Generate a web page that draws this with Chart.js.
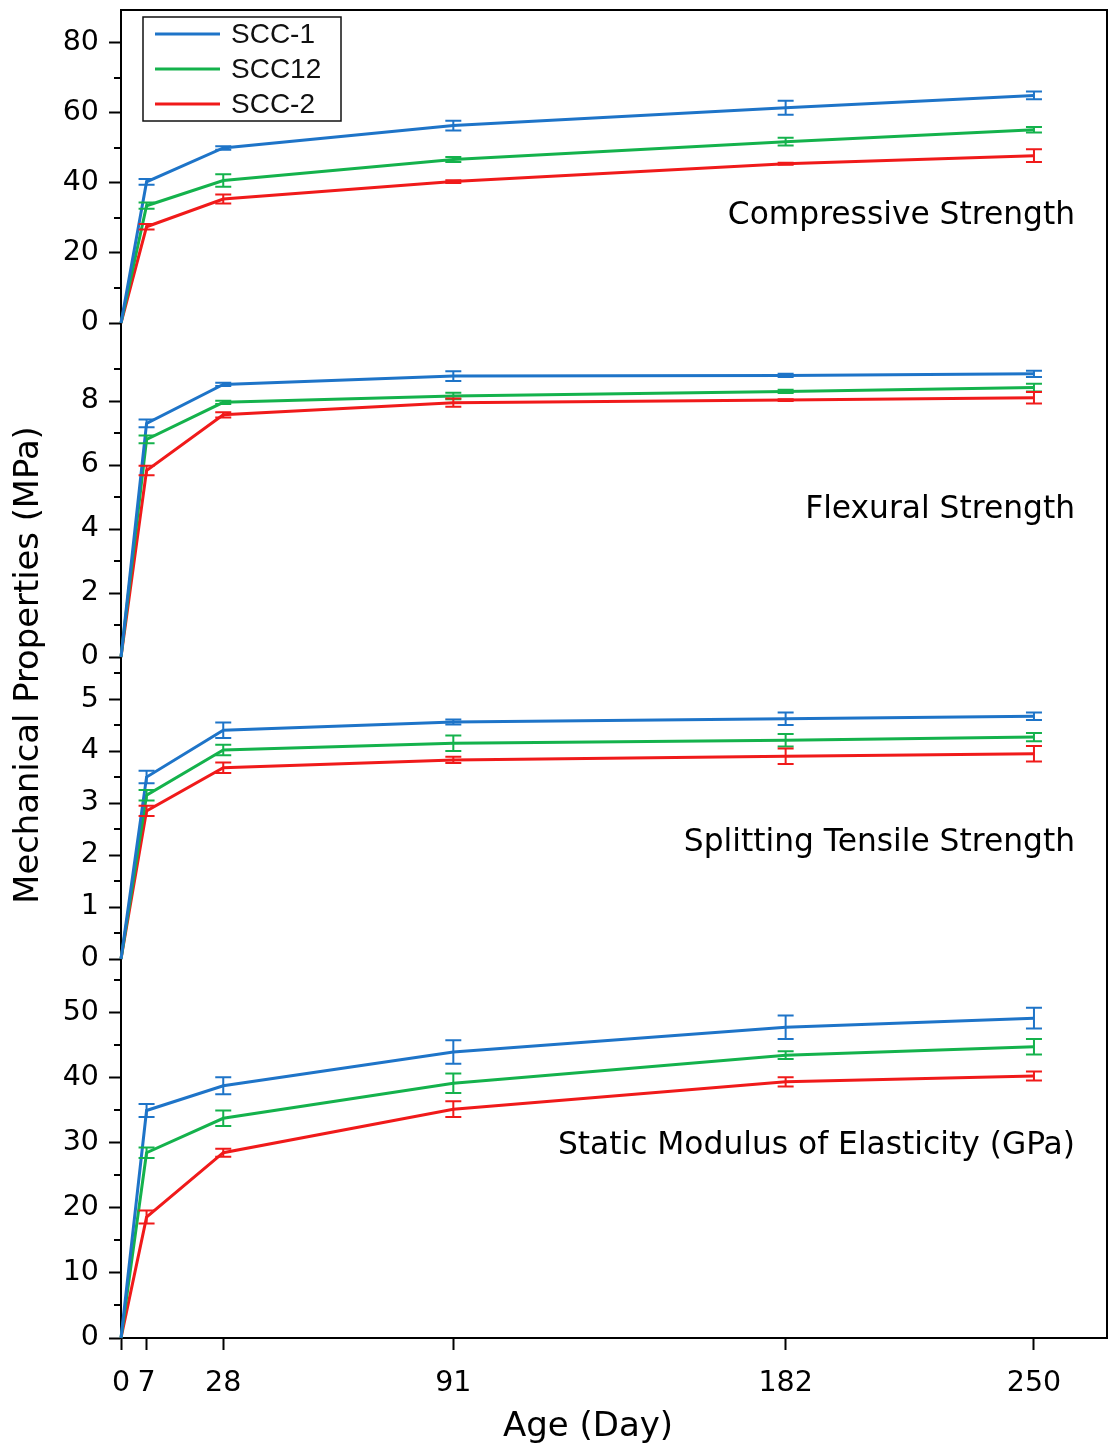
<!DOCTYPE html>
<html>
<head>
<meta charset="utf-8">
<script src="https://cdn.jsdelivr.net/npm/chart.js@4.4.1/dist/chart.umd.min.js"></script>
<style>
  body { margin: 0; background: #fff; }
  canvas { display: block; }
</style>
</head>
<body>
<canvas id="chart" width="1113" height="1454"></canvas>
<script>
// Age of specimens (days)
const days = [0, 7, 28, 91, 182, 250];
const dayTicks = [0, 7, 28, 91, 182, 250];
const seriesNames = ['SCC-1', 'SCC12', 'SCC-2'];

// Compressive strength (MPa)
const compScc1 = [0, 40.3, 50.0, 56.4, 61.5, 65.0];
const compScc1Err = [0, 0.8, 0.5, 1.4, 2.0, 1.1];
const compScc12 = [0, 33.5, 40.7, 46.7, 51.8, 55.2];
const compScc12Err = [0, 0.9, 1.8, 0.7, 1.1, 0.8];
const compScc2 = [0, 27.5, 35.4, 40.4, 45.5, 47.8];
const compScc2Err = [0, 0.8, 1.3, 0.4, 0.3, 1.8];
const compTicks = [0, 20, 40, 60, 80];
const compMinor = [10, 30, 50, 70];

// Flexural strength (MPa)
const flexScc1 = [0, 7.3, 8.52, 8.78, 8.8, 8.85];
const flexScc1Err = [0, 0.12, 0.05, 0.15, 0.05, 0.1];
const flexScc12 = [0, 6.8, 7.96, 8.16, 8.3, 8.42];
const flexScc12Err = [0, 0.12, 0.05, 0.1, 0.05, 0.12];
const flexScc2 = [0, 5.83, 7.57, 7.95, 8.03, 8.1];
const flexScc2Err = [0, 0.15, 0.08, 0.13, 0.03, 0.18];
const flexTicks = [0, 2, 4, 6, 8];
const flexMinor = [1, 3, 5, 7, 9];

// Splitting tensile strength (MPa)
const splitScc1 = [0, 3.5, 4.4, 4.56, 4.62, 4.67];
const splitScc1Err = [0, 0.12, 0.15, 0.05, 0.12, 0.07];
const splitScc12 = [0, 3.15, 4.02, 4.15, 4.21, 4.27];
const splitScc12Err = [0, 0.1, 0.1, 0.15, 0.12, 0.08];
const splitScc2 = [0, 2.85, 3.68, 3.83, 3.9, 3.95];
const splitScc2Err = [0, 0.1, 0.1, 0.06, 0.15, 0.15];
const splitTicks = [0, 1, 2, 3, 4, 5];
const splitMinor = [0.5, 1.5, 2.5, 3.5, 4.5, 5.5];

// Static modulus of elasticity (GPa)
const modScc1 = [0, 35.0, 38.8, 44.0, 47.8, 49.2];
const modScc1Err = [0, 1.0, 1.3, 1.8, 1.8, 1.6];
const modScc12 = [0, 28.5, 33.8, 39.2, 43.5, 44.8];
const modScc12Err = [0, 0.8, 1.2, 1.5, 0.6, 1.2];
const modScc2 = [0, 18.6, 28.5, 35.2, 39.4, 40.3];
const modScc2Err = [0, 1.0, 0.6, 1.2, 0.7, 0.7];
const modTicks = [0, 10, 20, 30, 40, 50];
const modMinor = [5, 15, 25, 35, 45, 55];

const panelNames = ['Compressive Strength', 'Flexural Strength', 'Splitting Tensile Strength', 'Static Modulus of Elasticity (GPa)'];

const colors = ['#1e74c8', '#14b24c', '#f01a1a'];
const FONT = '"DejaVu Sans", Verdana, sans-serif';

const panels = [
    { id: 'yComp', max: 89.4, h: 313, ticks: compTicks, minor: compMinor, series: [[compScc1, compScc1Err], [compScc12, compScc12Err], [compScc2, compScc2Err]], labelAt: 30.6 },
    { id: 'yFlex', max: 10.44, h: 334, ticks: flexTicks, minor: flexMinor, series: [[flexScc1, flexScc1Err], [flexScc12, flexScc12Err], [flexScc2, flexScc2Err]], labelAt: 4.6 },
    { id: 'ySplit', max: 5.81, h: 302, ticks: splitTicks, minor: splitMinor, series: [[splitScc1, splitScc1Err], [splitScc12, splitScc12Err], [splitScc2, splitScc2Err]], labelAt: 2.23 },
    { id: 'yMod', max: 58.3, h: 379, ticks: modTicks, minor: modMinor, series: [[modScc1, modScc1Err], [modScc12, modScc12Err], [modScc2, modScc2Err]], labelAt: 29.5 }
];

const datasets = [];
panels.forEach((p) => {
    p.series.forEach(([vals, errs], i) => {
        datasets.push({
            label: seriesNames[i],
            data: days.map((d, k) => ({ x: d, y: vals[k] })),
            errors: errs,
            yAxisID: p.id,
            borderColor: colors[i],
            borderWidth: 3,
            pointRadius: 0,
            tension: 0,
            clip: false
        });
    });
});

const yScale = (p, order) => ({
    type: 'linear',
    position: 'left',
    stack: 'panels',
    stackWeight: p.h,
    weight: order,
    min: 0,
    max: p.max,
    afterBuildTicks: (s) => { s.ticks = p.ticks.map((v) => ({ value: v })); },
    afterFit: (s) => { s.width = 121; s.paddingTop = 0; s.paddingBottom = 0; },
    grid: { display: true, drawOnChartArea: false, drawTicks: true, tickLength: 12, tickWidth: 2, tickColor: '#000' },
    border: { display: true, color: '#000', width: 2 },
    ticks: { font: { family: FONT, size: 28.5 }, color: '#000', padding: 10, autoSkip: false }
});

const scales = {
    x: {
        type: 'linear',
        min: 0,
        max: 270,
        afterBuildTicks: (s) => { s.ticks = dayTicks.map((v) => ({ value: v })); },
        afterFit: (s) => { s.height = 116; s.paddingLeft = 0; s.paddingRight = 0; },
        grid: { display: true, drawOnChartArea: false, drawTicks: true, tickLength: 12, tickWidth: 2, tickColor: '#000' },
        border: { display: true, color: '#000', width: 2 },
        ticks: { font: { family: FONT, size: 28.5 }, color: '#000', padding: 16, autoSkip: false, maxRotation: 0 },
        title: { display: false }
    }
};
panels.forEach((p, i) => { scales[p.id] = yScale(p, panels.length - i); });

// Error bars drawn from each dataset's errors through its own y scale
const errorBars = {
    id: 'errorBars',
    afterDatasetsDraw(chart) {
        const ctx = chart.ctx;
        const xs = chart.scales.x;
        chart.data.datasets.forEach((ds) => {
            const ys = chart.scales[ds.yAxisID];
            ctx.save();
            ctx.strokeStyle = ds.borderColor;
            ctx.lineWidth = 2;
            ds.data.forEach((pt, k) => {
                const e = ds.errors[k];
                if (!e) return;
                const x = xs.getPixelForValue(pt.x);
                const y0 = ys.getPixelForValue(pt.y - e);
                const y1 = ys.getPixelForValue(pt.y + e);
                ctx.beginPath();
                ctx.moveTo(x, y0); ctx.lineTo(x, y1);
                ctx.moveTo(x - 8, y0); ctx.lineTo(x + 8, y0);
                ctx.moveTo(x - 8, y1); ctx.lineTo(x + 8, y1);
                ctx.stroke();
            });
            ctx.restore();
        });
    }
};

const decorations = {
    id: 'decorations',
    afterDraw(chart) {
        const ctx = chart.ctx;
        const a = chart.chartArea;
        ctx.save();
        // frame top and right
        ctx.strokeStyle = '#000';
        ctx.lineWidth = 2;
        ctx.beginPath();
        ctx.moveTo(a.left, a.top); ctx.lineTo(a.right, a.top); ctx.lineTo(a.right, a.bottom);
        ctx.stroke();

        // minor ticks
        panels.forEach((p) => {
            const s = chart.scales[p.id];
            ctx.beginPath();
            p.minor.forEach((v) => {
                const y = Math.round(s.getPixelForValue(v));
                ctx.moveTo(a.left - 7, y); ctx.lineTo(a.left, y);
            });
            ctx.stroke();
        });

        // panel labels
        ctx.fillStyle = '#000';
        ctx.font = '31.3px ' + FONT;
        ctx.textAlign = 'right';
        ctx.textBaseline = 'middle';
        panels.forEach((p, i) => {
            const s = chart.scales[p.id];
            ctx.fillText(panelNames[i], a.right - 32, s.getPixelForValue(p.labelAt));
        });

        // axis titles
        ctx.textAlign = 'center';
        ctx.font = '34px ' + FONT;
        ctx.fillText('Age (Day)', 588, a.bottom + 89);
        ctx.save();
        ctx.translate(29, 665);
        ctx.rotate(-Math.PI / 2);
        ctx.font = '33.8px ' + FONT;
        ctx.fillText('Mechanical Properties (MPa)', 0, 0);
        ctx.restore();

        // legend
        const lx = a.left + 22, ly = a.top + 7;
        ctx.fillStyle = '#fff';
        ctx.fillRect(lx, ly, 198, 104);
        ctx.lineWidth = 1.5;
        ctx.strokeStyle = '#111';
        ctx.strokeRect(lx, ly, 198, 104);
        ctx.font = '28px "Liberation Sans", Arial, sans-serif';
        ctx.textAlign = 'left';
        seriesNames.forEach((n, i) => {
            const y = ly + 17 + i * 35;
            ctx.strokeStyle = colors[i];
            ctx.lineWidth = 3;
            ctx.beginPath();
            ctx.moveTo(lx + 12, y); ctx.lineTo(lx + 77, y);
            ctx.stroke();
            ctx.fillStyle = '#111';
            ctx.fillText(n, lx + 88, y + 1);
        });
        ctx.restore();
    }
};

new Chart(document.getElementById('chart'), {
    type: 'line',
    data: { datasets },
    options: {
        responsive: false,
        devicePixelRatio: 1,
        animation: false,
        layout: { padding: { left: 0, top: 10, right: 6, bottom: 0 } },
        plugins: { legend: { display: false }, tooltip: { enabled: false } },
        scales
    },
    plugins: [errorBars, decorations]
});
</script>
</body>
</html>
